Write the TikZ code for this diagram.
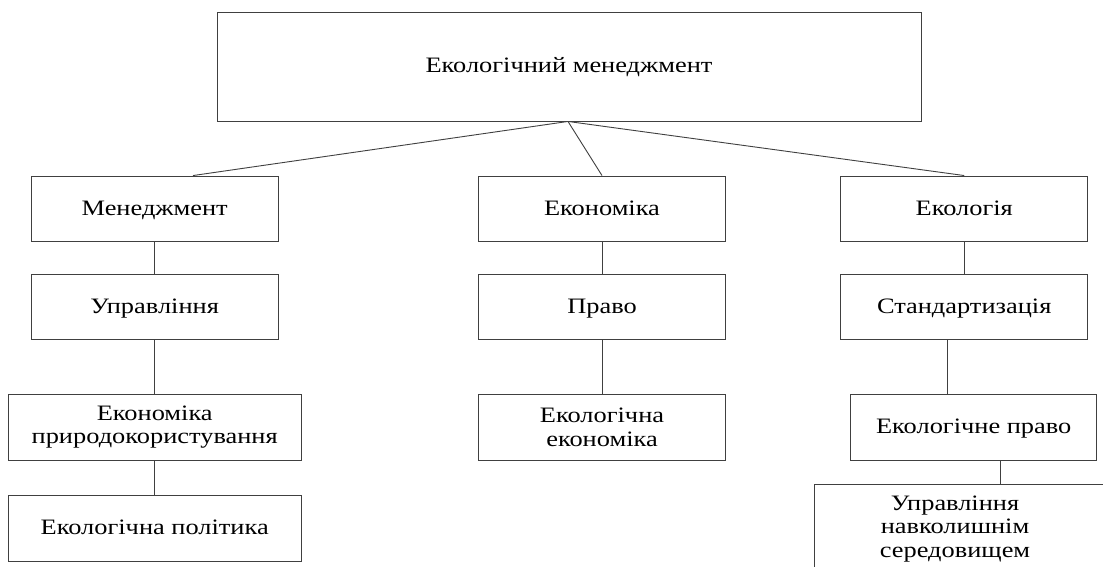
\documentclass[tikz,border=0pt]{standalone}
\usepackage{fontspec}
\setmainfont{Liberation Serif}[FakeStretch=1.2]
\begin{document}
\begin{tikzpicture}[x=1pt,y=-1pt,
  box/.style={draw=black!75, line width=0.9pt, rectangle, inner sep=0pt, align=center,
    font=\fontsize{22}{23.3}\selectfont},
  one/.style={text height=15pt, text depth=2pt},
  lbl/.style={inner sep=0pt, align=center, font=\fontsize{22}{23.3}\selectfont},
  conn/.style={draw=black!75, line width=0.9pt}]
\useasboundingbox (0,0) rectangle (1103,567);
\clip (0,0) rectangle (1103,567);
\fill[white] (0,0) rectangle (1103,567);
% top
\node[box, one, minimum width=704, minimum height=109] (top) at (569,66.5) {Екологічний менеджмент};
% left column
\node[box, one, minimum width=247, minimum height=65] (men) at (154.7,208.5) {Менеджмент};
\node[box, one, minimum width=247, minimum height=65.4] (upr) at (154.7,307) {Управління};
\node[box, minimum width=292.7, minimum height=65.7] (ekp) at (154.7,427.2) {Економіка\\природокористування};
\node[box, one, minimum width=292.7, minimum height=65.7] (pol) at (154.7,528.2) {Екологічна політика};
% middle column
\node[box, one, minimum width=247.4, minimum height=65] (eko) at (602,208.5) {Економіка};
\node[box, one, minimum width=247.4, minimum height=65.4] (pra) at (602,307) {Право};
\node[box, minimum width=247.4, minimum height=65.7] (eke) at (602,427.2) {Екологічна\\економіка};
% right column
\node[box, one, minimum width=247, minimum height=65] (ekl) at (964.2,208.5) {Екологія};
\node[box, one, minimum width=247, minimum height=65.4] (sta) at (964.2,307) {Стандартизація};
\node[box, one, minimum width=246, minimum height=65.7] (ekpr) at (973.7,427.2) {Екологічне право};
% last (clipped) box
\coordinate (unTL) at (814.3,484.3);
\coordinate (unBR) at (1115,580);
\draw[conn] (unTL) rectangle (unBR);
\node[lbl] (unv) at (955,529) {Управління\\навколишнім\\середовищем};
% connectors
\coordinate (apex) at (568,121);
\draw[conn] (top.south -| apex) -- (men.north -| 193,0);
\draw[conn] (top.south -| apex) -- (eko.north);
\draw[conn] (top.south -| apex) -- (ekl.north);
\draw[conn] (men) -- (upr);
\draw[conn] (upr) -- (ekp);
\draw[conn] (ekp) -- (pol);
\draw[conn] (eko) -- (pra);
\draw[conn] (pra) -- (eke);
\draw[conn] (ekl) -- (sta);
\draw[conn] (sta.south -| 947,0) -- (ekpr.north -| 947,0);
\draw[conn] (ekpr.south -| 1000.7,0) -- (unTL -| 1000.7,0);
\end{tikzpicture}
\end{document}
